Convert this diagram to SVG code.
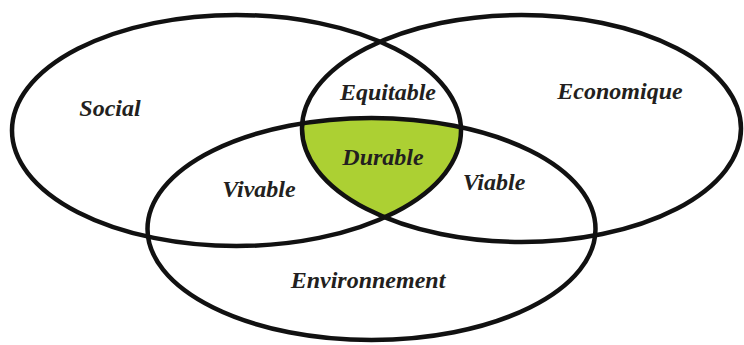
<svg xmlns="http://www.w3.org/2000/svg" width="744" height="345" viewBox="0 0 744 345">
<style>
.ring{fill:none;stroke:#111;stroke-width:4.5}
.lbl{font-family:"Liberation Serif","Times New Roman",serif;font-weight:bold;font-style:italic;font-size:24px;fill:#231f20;text-anchor:middle}
</style>
<defs>
<clipPath id="c1"><ellipse cx="236.5" cy="130.5" rx="224.5" ry="115.5"/></clipPath>
<clipPath id="c2"><ellipse cx="521.5" cy="128.5" rx="219.5" ry="113.5"/></clipPath>
</defs>
<rect width="744" height="345" fill="#fff"/>
<g id="durable-fill" clip-path="url(#c1)">
<g clip-path="url(#c2)">
<ellipse cx="371.5" cy="229" rx="224" ry="111" fill="#acd033"/>
</g>
</g>
<g id="connectors"></g>
<g id="social"><ellipse class="ring" cx="236.5" cy="130.5" rx="224.5" ry="115.5"/><text class="lbl" x="110" y="116">Social</text></g>
<g id="economique"><ellipse class="ring" cx="521.5" cy="128.5" rx="219.5" ry="113.5"/><text class="lbl" x="620" y="99">Economique</text></g>
<g id="environnement"><ellipse class="ring" cx="371.5" cy="229" rx="224" ry="111"/><text class="lbl" x="368" y="288">Environnement</text></g>
<g id="equitable"><text class="lbl" x="388" y="100">Equitable</text></g>
<g id="durable"><text class="lbl" x="383" y="165">Durable</text></g>
<g id="vivable"><text class="lbl" x="259" y="197">Vivable</text></g>
<g id="viable"><text class="lbl" x="494" y="190">Viable</text></g>
</svg>
